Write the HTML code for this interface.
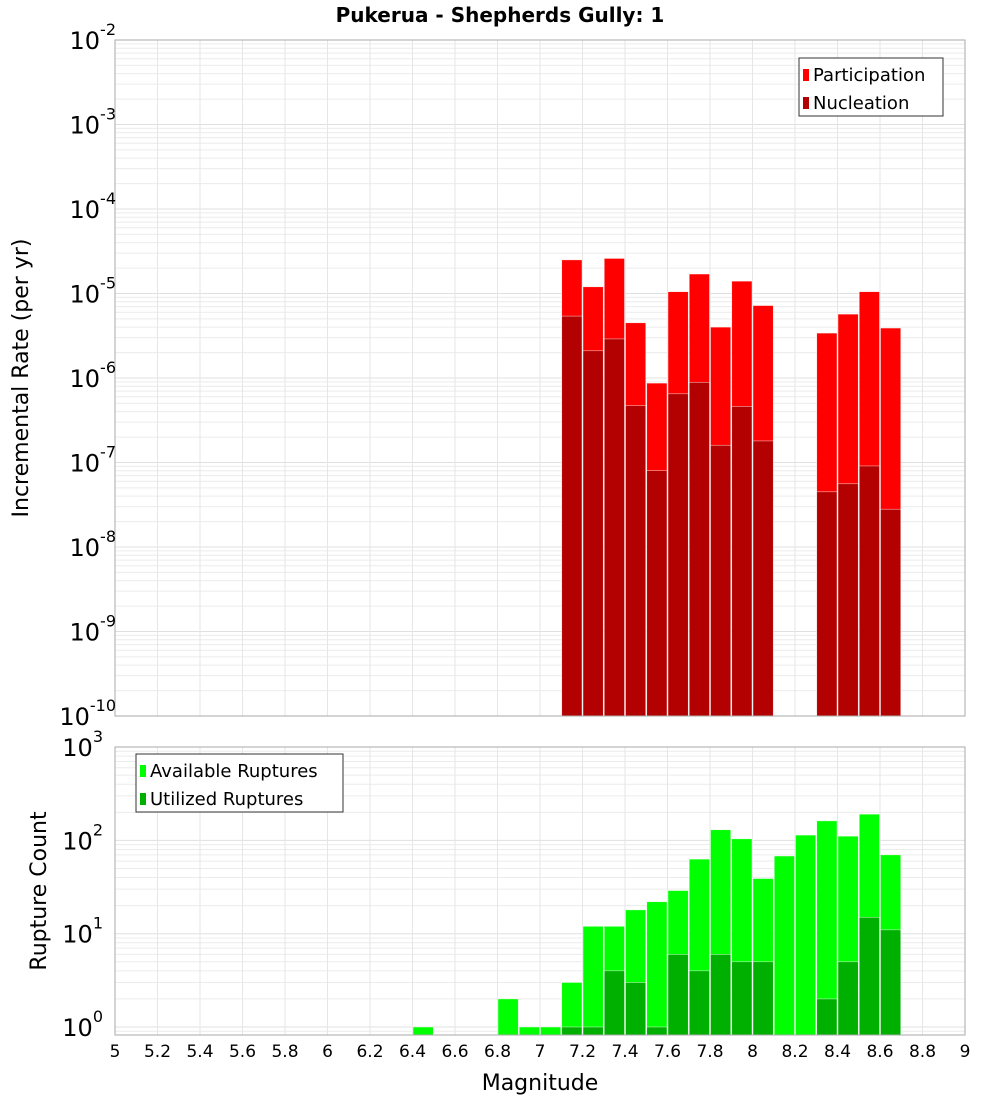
<!DOCTYPE html>
<html><head><meta charset="utf-8"><style>
body{margin:0;background:#fff;font-family:"Liberation Sans","DejaVu Sans",sans-serif}
svg text{font-family:"DejaVu Sans","Liberation Sans",sans-serif}
</style></head><body>
<svg id="c" width="1000" height="1100" xmlns="http://www.w3.org/2000/svg">
<text x="500" y="22" text-anchor="middle" font-size="20" font-weight="bold">Pukerua - Shepherds Gully: 1</text>
<text transform="translate(28,378) rotate(-90)" text-anchor="middle" font-size="22">Incremental Rate (per yr)</text>
<text transform="translate(46,891) rotate(-90)" text-anchor="middle" font-size="22">Rupture Count</text>
<text x="540" y="1090" text-anchor="middle" font-size="22">Magnitude</text>
<g id="g"></g>
</svg>
<script>
const rateMags=[7.15,7.25,7.35,7.45,7.55,7.65,7.75,7.85,7.95,8.05,8.35,8.45,8.55,8.65];
const participation=[2.5e-5,1.2e-5,2.6e-5,4.5e-6,8.7e-7,1.05e-5,1.7e-5,4e-6,1.4e-5,7.2e-6,3.4e-6,5.7e-6,1.05e-5,3.9e-6];
const nucleation=[5.4e-6,2.1e-6,2.9e-6,4.7e-7,8e-8,6.5e-7,8.9e-7,1.6e-7,4.6e-7,1.8e-7,4.5e-8,5.6e-8,9.1e-8,2.8e-8];
const countMags=[6.45,6.85,6.95,7.05,7.15,7.25,7.35,7.45,7.55,7.65,7.75,7.85,7.95,8.05,8.15,8.25,8.35,8.45,8.55,8.65];
const available=[1,2,1,1,3,12,12,18,22,29,63,130,104,39,68,114,162,111,191,70];
const utilized=[0,0,0,0,1,1,4,3,1,6,4,6,5,5,0,0,2,5,15,11];
const xTicks=[5,5.2,5.4,5.6,5.8,6,6.2,6.4,6.6,6.8,7,7.2,7.4,7.6,7.8,8,8.2,8.4,8.6,8.8,9];

const NS="http://www.w3.org/2000/svg", g=document.getElementById('g');
const X0=115,X1=965;
const x=m=>X0+(m-5)/4*(X1-X0);
const T={top:40,bot:716,lo:-10,hi:-2};
const B={top:747,bot:1035,y0:1027,dec:93.3};
const yT=v=>T.bot-(Math.log10(v)-T.lo)/(T.hi-T.lo)*(T.bot-T.top);
const yB=v=>v<=0?B.bot:Math.min(B.bot,B.y0-B.dec*Math.log10(v));
function el(t,a,p){const e=document.createElementNS(NS,t);for(const k in a)e.setAttribute(k,a[k]);(p||g).appendChild(e);return e;}

function panel(top,bot,yf,dLo,dHi,name){
  el('rect',{x:X0,y:top,width:X1-X0,height:bot-top,fill:'#fff'});
  for(let d=dLo;d<dHi;d++)for(let k=1;k<10;k++){const y=yf(k*Math.pow(10,d));if(y<top||y>bot)continue;
    const l=el('line',{x1:X0,x2:X1,y1:y,y2:y,stroke:k==1?'#e0e0e0':'#ececec','stroke-width':1});
    
    }
  xTicks.forEach(t=>{const l=el('line',{x1:x(t),x2:x(t),y1:top,y2:bot,stroke:'#e6e6e6'});
    
    });
}
panel(T.top,T.bot,yT,-10,-1,'top');
panel(B.top,B.bot,yB,-1,3,'bottom');

const w=(x(5.1)-x(5));
function bar(m,v,base,col,name){
  const y=base(v);const b=el('rect',{x:x(m)-w/2+0.5,y:y,width:w-1,height:(base===yT?T.bot:B.bot)-y,fill:col,stroke:'#fff','stroke-width':0.6,'stroke-opacity':0.7});
  
  
}
rateMags.forEach((m,i)=>bar(m,participation[i],yT,'#ff0000','participation-bar'));
rateMags.forEach((m,i)=>bar(m,nucleation[i],yT,'#b30000','nucleation-bar'));
countMags.forEach((m,i)=>bar(m,available[i],yB,'#00ff00','available-bar'));
countMags.forEach((m,i)=>{if(utilized[i]>0)bar(m,utilized[i],yB,'#00b000','utilized-bar');});

el('rect',{x:X0,y:T.top,width:X1-X0,height:T.bot-T.top,fill:'none',stroke:'#aaa'});
el('rect',{x:X0,y:B.top,width:X1-X0,height:B.bot-B.top,fill:'none',stroke:'#aaa'});

function pow(xr,y,exp,name){const t=el('text',{x:xr,y:y,'text-anchor':'end','font-size':24});
  
  
  t.textContent='10';const s=el('tspan',{dy:-14,'font-size':16},t);s.textContent=exp;}
for(let d=-2;d>=-10;d--)pow(116,yT(Math.pow(10,d))+9,String(d),'top-y-tick-label');
for(let d=0;d<=3;d++)pow(103,B.y0-B.dec*d+9,String(d),'bottom-y-tick-label');
xTicks.forEach(t=>{const s=el('text',{x:x(t),y:1057,'text-anchor':'middle','font-size':17});
  
  
  s.textContent=String(t);});

function legend(lx,ly,lw,items,name){
  const r=el('rect',{x:lx,y:ly,width:lw,height:58,fill:'#fff',stroke:'#333'});
  
  
  items.forEach((it,i)=>{el('rect',{x:lx+4,y:ly+11+i*28,width:6,height:12,fill:it[1]});
    const t=el('text',{x:lx+14,y:ly+23+i*28,'font-size':18});
    
    
    t.textContent=it[0];});
}
legend(799,58,144,[['Participation','#ff0000'],['Nucleation','#b30000']],'top-legend');
legend(136,754,207,[['Available Ruptures','#00ff00'],['Utilized Ruptures','#00b000']],'bottom-legend');
</script>
</body></html>
